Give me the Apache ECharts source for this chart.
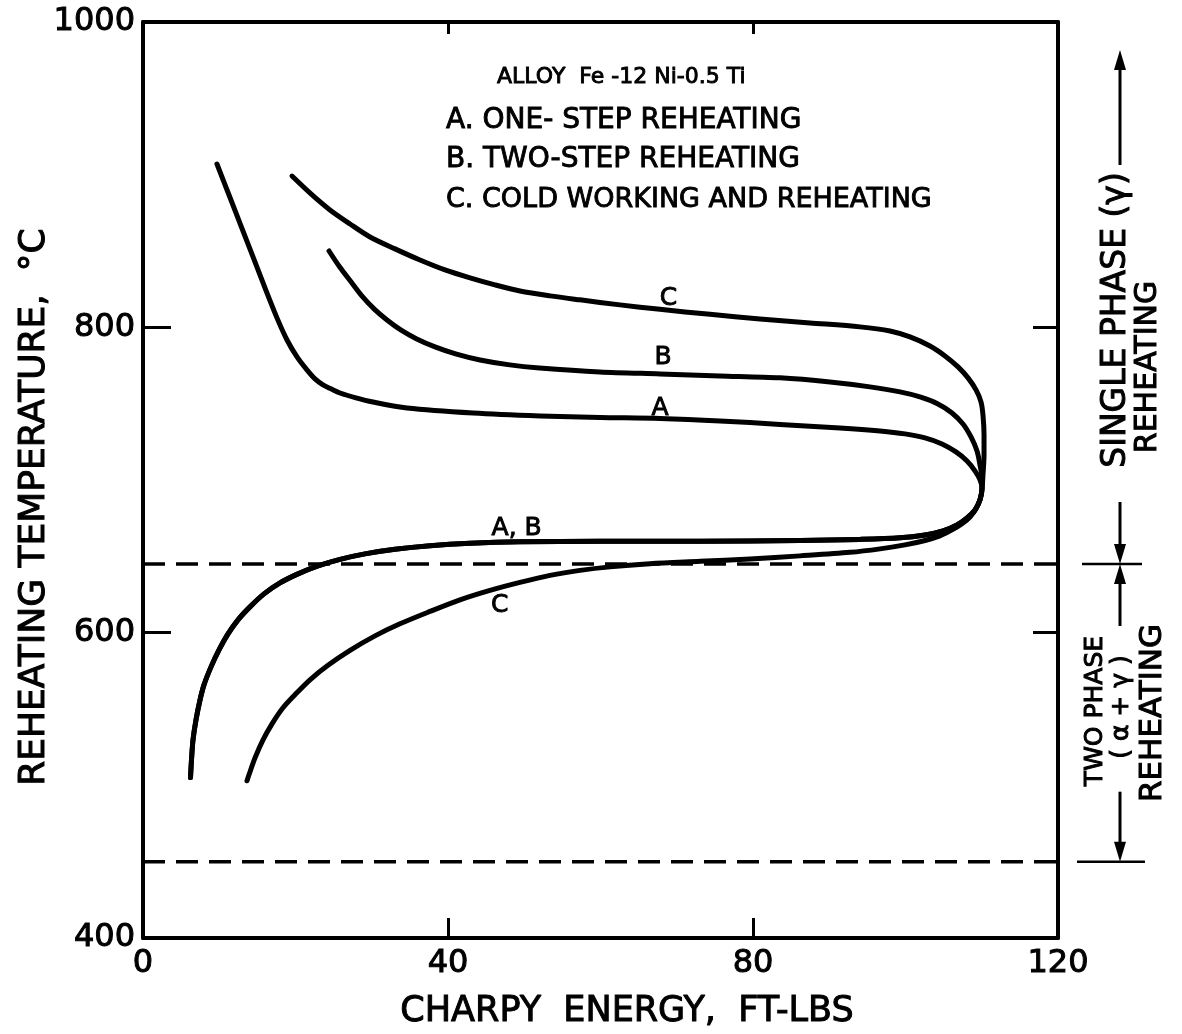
<!DOCTYPE html>
<html><head><meta charset="utf-8">
<script src="https://cdn.jsdelivr.net/npm/echarts@6/dist/echarts.min.js"></script>
<style>html,body{margin:0;padding:0;background:#fff}#c{width:1182px;height:1034px}</style>
</head><body><div id="c"></div>
<script>
// ---- data (Charpy energy ft-lbs, reheating temperature °C), in drawing order ----
const xTicks = [0, 40, 80, 120];
const yTicks = [400, 600, 800, 1000];
const curveAUpper = [[9.7,907],[11.28,886.7],[12.85,866.4],[14.43,846.1],[16.0,825.8],[17.57,806.2],[18.89,791.7],[20.2,780.6],[21.5,772.1],[22.56,766.2],[23.6,762.3],[24.66,759.7],[25.84,757],[27.93,753.8],[30.16,751.1],[34.62,747.2],[43.28,743.9],[52.07,742],[59.93,741],[67.8,740.3],[75.67,738.7],[83.54,736.4],[91.41,734.1],[96.66,732.1],[99.93,730.2],[102.56,727.6],[104.79,723.6],[106.62,718.4],[108.07,712.5],[109.11,706],[109.77,700.1],[110.03,694.8]];
const curveBUpper = [[24.4,850],[25.8,839.5],[27.3,829.7],[28.7,820.6],[30.3,812.1],[32.0,804.8],[33.8,798.3],[35.9,792.4],[38.3,787.2],[41.0,782.6],[44.2,778.6],[48.1,775.4],[52.0,773.4],[59.9,770.8],[67.8,769.5],[75.67,768.2],[83.54,766.9],[90.1,764.2],[95.34,761],[99.28,757.7],[101.9,754.4],[104.26,749.8],[106.1,743.9],[107.54,736.7],[108.59,728.2],[109.38,719],[109.77,709.9],[110.03,701.4],[110.03,694.8]];
const lowerAB = [[109.77,687],[109.11,680.4],[108.07,675.2],[106.75,670.6],[104.92,666.7],[102.56,664],[99.28,662.1],[94.03,661.1],[86.16,660.4],[73.05,659.8],[59.93,659.8],[49.44,659.5],[42.89,658.5],[37.64,656.9],[33.05,654.6],[29.11,651.6],[25.84,648],[22.95,643.7],[20.33,638.5],[17.97,632.6],[15.87,625.4],[14.03,616.9],[12.46,608.4],[11.15,599.2],[9.97,588.7],[8.92,577.6],[8.0,565.8],[7.48,556],[6.95,542.9],[6.56,529.8],[6.36,516.7],[6.23,505.1]];
const curveCUpper = [[19.54,899.1],[22.03,887.4],[24.52,876.9],[27.15,867.7],[29.77,859.2],[33.05,851.4],[36.33,844.1],[39.61,837.6],[42.89,832.4],[46.16,827.8],[49.44,823.8],[53.38,820.6],[57.31,818],[62.56,814.7],[67.8,811.8],[74.36,808.5],[80.92,805.5],[87.48,802.9],[94.03,800.3],[97.97,797.6],[100.59,793.7],[103.21,787.8],[105.18,781.3],[106.89,774.1],[108.2,766.9],[109.25,759],[109.9,751.2],[110.16,742.6],[110.3,729.5],[110.3,716.4],[110.16,703.3],[110.03,693.5]];
const curveCLower = [[109.77,687],[109.25,681.1],[108.46,675.8],[107.41,671.3],[106.1,667.3],[104.52,663.4],[102.56,660.4],[99.93,657.5],[96.66,654.9],[92.72,652.6],[86.16,650.3],[79.61,648.3],[73.05,646.7],[66.49,645.1],[61.25,643.1],[57.31,640.8],[53.38,637.5],[49.44,632.9],[45.51,627.7],[41.57,621.5],[37.64,613.9],[33.7,605.8],[30.43,597.9],[27.15,588.4],[24.26,578.6],[21.9,569.1],[19.93,559.3],[18.36,550.8],[16.92,540.3],[15.74,529.8],[14.69,518],[13.9,506.9],[13.64,503]];
const phaseBoundaries = [645, 450];
const curveLabelNames = ['C', 'B', 'A', 'A, B', 'C'];
const curveLabelPoints = [[68.9,819],[68.2,780],[67.8,747],[49,668.5],[46.8,618]];
const legendLines = ['ALLOY  Fe -12 Ni-0.5 Ti', 'A. ONE- STEP REHEATING', 'B. TWO-STEP REHEATING', 'C. COLD WORKING AND REHEATING'];

const FONT = 'DejaVu Sans';
const chart = echarts.init(document.getElementById('c'));

const curveStyle = { color: '#000', width: 5, cap: 'round', join: 'round' };
function curve(name, pts) {
  return { name, type: 'line', data: pts, smooth: 0.3, symbol: 'none', lineStyle: curveStyle, z: 3, silent: true };
}
const series = [
  curve('A', curveAUpper.concat(lowerAB)),
  curve('B', curveBUpper.concat(lowerAB)),
  curve('C', curveCUpper.concat(curveCLower))
];
phaseBoundaries.forEach(t => series.push({
  type: 'line', data: [[xTicks[0], t], [xTicks[xTicks.length-1], t]], symbol: 'none',
  lineStyle: { color: '#000', width: 3.5, type: [22, 11] }, z: 2, silent: true
}));

const axisLine = { show: true, onZero: false, lineStyle: { color: '#000', width: 4 } };
const lbl = { color: '#000', fontSize: 32, fontFamily: FONT, textBorderColor: '#000', textBorderWidth: 1, formatter: v => String(v) };
const baseX = { type: 'value', min: xTicks[0], max: xTicks[xTicks.length-1], interval: xTicks[1]-xTicks[0], splitLine: { show: false }, axisLine };
const baseY = { type: 'value', min: yTicks[0], max: yTicks[yTicks.length-1], interval: yTicks[1]-yTicks[0], splitLine: { show: false }, axisLine };

chart.setOption({
  animation: false,
  backgroundColor: '#fff',
  grid: { left: 143, right: 124, top: 22, bottom: 96 },
  xAxis: [
    Object.assign({}, baseX, { position: 'bottom', axisTick: { inside: true, length: 20, lineStyle: { color: '#000', width: 3 } },
      axisLabel: Object.assign({ margin: 10 }, lbl) }),
    Object.assign({}, baseX, { position: 'top', axisTick: { inside: true, length: 12, lineStyle: { color: '#000', width: 3 } }, axisLabel: { show: false } })
  ],
  yAxis: [
    Object.assign({}, baseY, { position: 'left', axisTick: { inside: true, length: 28, lineStyle: { color: '#000', width: 3 } },
      axisLabel: Object.assign({ margin: 8 }, lbl) }),
    Object.assign({}, baseY, { position: 'right', axisTick: { inside: true, length: 25, lineStyle: { color: '#000', width: 3 } }, axisLabel: { show: false } })
  ],
  series
});

const yB = chart.convertToPixel({ yAxisIndex: 0 }, phaseBoundaries[0]);
const yL = chart.convertToPixel({ yAxisIndex: 0 }, phaseBoundaries[1]);
const ax = 1120;
const blk = { fill: '#000' };
const ln = (x1, y1, x2, y2, w) => ({ type: 'line', shape: { x1, y1, x2, y2 }, style: { stroke: '#000', lineWidth: w || 3 } });
const head = (x, y, dir) => ({ type: 'polygon', shape: { points: [[x, y], [x - 6, y - dir * 20], [x + 6, y - dir * 20]] }, style: blk });
const txt = (s, x, y, size, rot, align, bw) => ({
  type: 'text', x, y, rotation: rot || 0, z: 10,
  style: { text: s, fill: '#000', stroke: '#000', lineWidth: bw === undefined ? 1 : bw,
    font: 'normal ' + size + 'px "' + FONT + '"', textAlign: align || 'center', textVerticalAlign: 'middle' }
});

const g = [
  ln(ax, 165, ax, 70), head(ax, 50, -1),
  ln(ax, yB - 62, ax, yB - 12), head(ax, yB, 1),
  ln(ax, yB + 62, ax, yB + 12), head(ax, yB, -1),
  ln(1082, yB, 1142, yB, 2.5),
  ln(ax, yL - 70, ax, yL - 12), head(ax, yL, 1),
  ln(1077, yL, 1145, yL, 2.5),
  txt('SINGLE PHASE (γ)', 1116, 320, 33, Math.PI / 2),
  txt('REHEATING', 1148, 367, 30, Math.PI / 2),
  txt('TWO PHASE', 1095, 711, 25, Math.PI / 2),
  txt('( α + γ )', 1121, 707, 25, Math.PI / 2),
  txt('REHEATING', 1153, 713, 31, Math.PI / 2),
  txt('REHEATING TEMPERATURE,  °C', 35, 507, 36, Math.PI / 2),
  txt('CHARPY  ENERGY,  FT-LBS', 627, 1012, 35),
  txt(legendLines[0], 497, 77, 22, 0, 'left', 0.9),
  txt(legendLines[1], 446, 121, 28, 0, 'left', 0.9),
  txt(legendLines[2], 446, 160, 28, 0, 'left', 0.9),
  txt(legendLines[3], 446, 200, 27, 0, 'left', 0.9)
];
curveLabelPoints.forEach((p, i) => {
  const px = chart.convertToPixel({ xAxisIndex: 0, yAxisIndex: 0 }, p);
  g.push(txt(curveLabelNames[i], px[0], px[1], 25, 0, 'center', 0.9));
});
chart.setOption({ graphic: g });
</script></body></html>
